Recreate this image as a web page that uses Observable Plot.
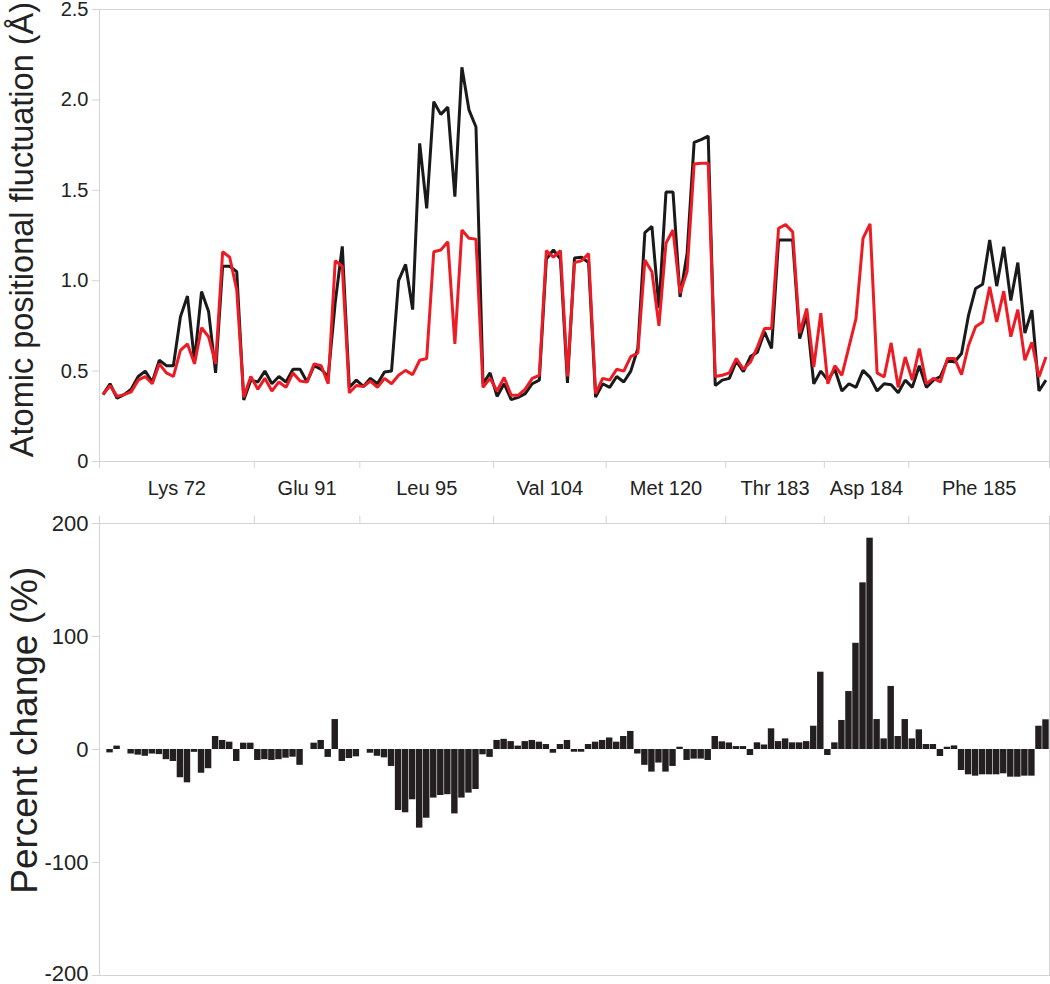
<!DOCTYPE html>
<html>
<head>
<meta charset="utf-8">
<script src="https://cdn.jsdelivr.net/npm/d3@7"></script>
<script src="https://cdn.jsdelivr.net/npm/@observablehq/plot@0.6"></script>
<style>
  body { margin: 0; background: #fff; }
  #chart { width: 1050px; }
  #chart svg { display: block; }
</style>
</head>
<body>
<div id="chart"></div>
<script>
// Residues along the x axis and their number of atoms
const residues = ["Lys 72", "Glu 91", "Leu 95", "Val 104", "Met 120", "Thr 183", "Asp 184", "Phe 185"];
const atomCounts = [22, 15, 19, 16, 17, 14, 12, 20];

// Atomic positional fluctuation (Å), black series
const fluctBlack = [
  0.37, 0.43, 0.35, 0.37, 0.40, 0.47, 0.50, 0.44, 0.56, 0.53, 0.53, 0.80, 0.915, 0.555, 0.94, 0.83, 0.49, 1.08, 1.08, 1.05, 0.34, 0.45,
  0.44, 0.50, 0.43, 0.47, 0.44, 0.51, 0.51, 0.44, 0.53, 0.51, 0.47, 0.88, 1.19, 0.41, 0.45,
  0.415, 0.46, 0.43, 0.495, 0.50, 1.00, 1.09, 0.84, 1.76, 1.40, 1.99, 1.92, 1.96, 1.465, 2.18, 1.945, 1.85, 0.43, 0.49,
  0.36, 0.43, 0.342, 0.355, 0.375, 0.43, 0.45, 1.12, 1.17, 1.12, 0.435, 1.125, 1.13, 1.10, 0.356, 0.43,
  0.41, 0.47, 0.44, 0.50, 0.625, 1.266, 1.30, 0.85, 1.49, 1.49, 0.91, 1.15, 1.765, 1.78, 1.80, 0.42, 0.45,
  0.46, 0.555, 0.497, 0.58, 0.605, 0.717, 0.625, 1.225, 1.225, 1.225, 0.68, 0.81, 0.43, 0.50,
  0.45, 0.51, 0.39, 0.43, 0.41, 0.504, 0.465, 0.39, 0.43, 0.424, 0.38, 0.45,
  0.41, 0.53, 0.41, 0.45, 0.47, 0.56, 0.55, 0.597, 0.81, 0.957, 0.98, 1.225, 0.97, 1.188, 0.89, 1.10, 0.71, 0.837, 0.39, 0.45
];

// Atomic positional fluctuation (Å), red series
const fluctRed = [
  0.37, 0.42, 0.36, 0.37, 0.385, 0.45, 0.47, 0.43, 0.54, 0.49, 0.47, 0.615, 0.65, 0.54, 0.74, 0.69, 0.54, 1.16, 1.13, 0.95, 0.355, 0.47,
  0.40, 0.46, 0.39, 0.44, 0.41, 0.49, 0.445, 0.44, 0.54, 0.53, 0.43, 1.11, 1.08, 0.38, 0.42,
  0.415, 0.445, 0.41, 0.46, 0.43, 0.477, 0.504, 0.48, 0.56, 0.57, 1.16, 1.17, 1.215, 0.65, 1.28, 1.235, 1.23, 0.41, 0.46,
  0.39, 0.465, 0.366, 0.366, 0.40, 0.46, 0.477, 1.166, 1.13, 1.166, 0.47, 1.10, 1.11, 1.15, 0.375, 0.46,
  0.45, 0.51, 0.50, 0.58, 0.60, 1.114, 1.05, 0.75, 1.207, 1.28, 0.93, 1.05, 1.646, 1.65, 1.65, 0.47, 0.477,
  0.49, 0.57, 0.51, 0.55, 0.634, 0.735, 0.735, 1.29, 1.31, 1.27, 0.71, 0.846, 0.523, 0.82,
  0.43, 0.53, 0.477, 0.634, 0.79, 1.234, 1.314, 0.49, 0.467, 0.656, 0.41, 0.578,
  0.45, 0.625, 0.43, 0.46, 0.44, 0.57, 0.57, 0.48, 0.643, 0.745, 0.772, 0.966, 0.772, 0.942, 0.69, 0.84, 0.56, 0.66, 0.467, 0.578
];

// Percent change (%), bars
const percentChange = [
  0, -3, 3, 0, -4, -5, -6, -4, -4.5, -9, -10.6, -25, -29.5, -2.5, -21, -17, 11.5, 8, 6.5, -10.6, 5.6, 5.6,
  -9.7, -9, -9.7, -9, -7.7, -6.8, -14, 0, 5.6, 8, -7, 26.5, -10.6, -8, -6.5,
  0, -3.3, -6, -7.4, -15, -54, -56, -44.5, -69.6, -60.8, -43, -40.7, -40, -57, -43, -38.6, -35.4, -4.7, -7,
  8, 9, 7, 3, 7, 8, 6.5, 4.4, -3.3, 4.4, 8, -2.4, -2.4, 4.4, 6.5, 8,
  10.2, 6.5, 11.5, 16, -4, -14, -20, -12, -20, -15, 2, -9.7, -8.5, -8.5, -9.7, 11.5, 6.8,
  5.8, 2.6, 2.6, -5.3, 5.9, 4, 18.3, 7, 9.4, 5.9, 5.9, 7, 20.6, 68.4,
  -5.3, 5.9, 25.7, 51.3, 94, 147.5, 187, 26.5, 9.4, 55.8, 11.5, 26.5,
  9.4, 17.4, 4.4, 4.4, -6.2, 2, 3.2, -18.6, -22.4, -23.6, -22.4, -22.4, -22.4, -21.5, -24.5, -24.5, -23.6, -23.6, 20.6, 26.3
];

const topTicks = [0, 0.5, 1.0, 1.5, 2.0, 2.5];
const bottomTicks = [-200, -100, 0, 100, 200];

// derived helpers
const nAtoms = d3.sum(atomCounts);
const bounds = [0, ...d3.cumsum(atomCounts)];
const centers = residues.map((r, i) => (bounds[i] + bounds[i + 1]) / 2);
const idx = d3.range(nAtoms);

const font = "'Liberation Sans', Arial, Helvetica, sans-serif";
const gridGrey = "#d4d4d4";

const topPlot = Plot.plot({
  width: 1050, height: 510,
  marginLeft: 99, marginRight: 1, marginTop: 9, marginBottom: 49,
  style: {fontFamily: font, background: "#fff", overflow: "visible"},
  x: {domain: [0, nAtoms], axis: null},
  y: {domain: [0, 2.5], axis: null},
  marks: [
    Plot.frame({stroke: gridGrey}),
    Plot.ruleY(topTicks, {y: d => d, x1: -1, x2: 0, stroke: gridGrey}),
    Plot.text(topTicks, {y: d => d, x: -1, text: d => d === 0 ? "0" : d.toFixed(1), textAnchor: "end", dx: -4, fontSize: 20, fill: "#222"}),
    Plot.ruleX(bounds, {x: d => d, y1: 0, y2: -0.039, stroke: gridGrey}),
    Plot.text(residues, {x: (d, i) => centers[i], frameAnchor: "bottom", dy: 33, text: d => d, fontSize: 20, fill: "#222"}),
    Plot.line(idx, {x: i => i + 0.5, y: i => fluctBlack[i], stroke: "#1a1a1a", strokeWidth: 3, strokeLinejoin: "miter", strokeLinecap: "butt"}),
    Plot.line(idx, {x: i => i + 0.5, y: i => fluctRed[i], stroke: "#ed1c24", strokeWidth: 3, strokeLinejoin: "miter", strokeLinecap: "butt"}),
    Plot.text(["Atomic positional fluctuation (Å)"], {x: -10.9, y: 1.283, rotate: -90, text: d => d, fontSize: 32.5, fill: "#222"})
  ]
});

const bottomPlot = Plot.plot({
  width: 1050, height: 474,
  marginLeft: 99, marginRight: 1, marginTop: 13, marginBottom: 9,
  style: {fontFamily: font, background: "#fff", overflow: "visible"},
  x: {domain: [0, nAtoms], axis: null},
  y: {domain: [-200, 200], axis: null},
  marks: [
    Plot.frame({stroke: gridGrey}),
    Plot.ruleY(bottomTicks, {y: d => d, x1: -1, x2: 0, stroke: gridGrey}),
    Plot.text(bottomTicks.filter(d => d > -200), {y: d => d, x: -1, text: d => String(d), textAnchor: "end", dx: -4, fontSize: 22, fill: "#222"}),
    Plot.text(bottomTicks.filter(d => d === -200), {y: d => d, x: -1, text: d => String(d), textAnchor: "end", dx: -4, dy: -2, fontSize: 22, fill: "#222"}),
    Plot.ruleX(bounds, {x: d => d, y1: 200, y2: 206.5, stroke: gridGrey}),
    Plot.rectY(idx, {x1: i => i, x2: i => i + 1, y1: 0, y2: i => percentChange[i], fill: "#231f20", insetLeft: 0.3, insetRight: 0.3}),
    Plot.text(["Percent change (%)"], {x: -10.5, y: 17, rotate: -90, text: d => d, fontSize: 37, fill: "#222"})
  ]
});

const chart = document.getElementById("chart");
chart.appendChild(topPlot);
chart.appendChild(bottomPlot);
</script>
</body>
</html>
